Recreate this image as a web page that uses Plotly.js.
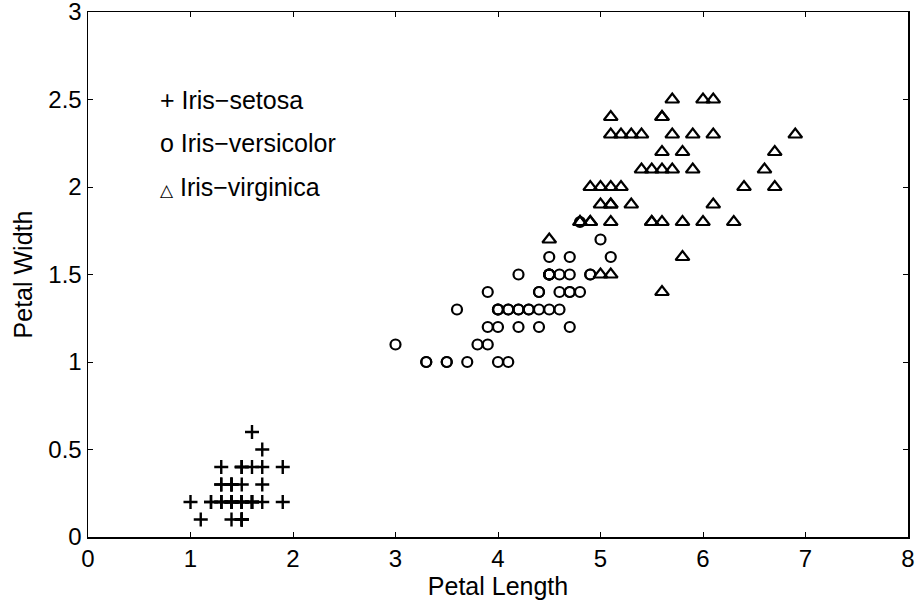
<!DOCTYPE html>
<html><head><meta charset="utf-8">
<script src="https://cdn.plot.ly/plotly-3.0.1.min.js"></script>
<style>body{margin:0;background:#fff}#c{width:920px;height:609px}</style>
</head><body><div id="c"></div>
<script>
const setosaLen = [1.4,1.4,1.3,1.5,1.4,1.7,1.4,1.5,1.4,1.5,1.5,1.6,1.4,1.1,1.2,1.5,1.3,1.4,1.7,1.5,1.7,1.5,1.0,1.7,1.9,1.6,1.6,1.5,1.4,1.6,1.6,1.5,1.5,1.4,1.5,1.2,1.3,1.5,1.3,1.5,1.3,1.3,1.3,1.6,1.9,1.4,1.6,1.4,1.5,1.4];
const setosaWid = [0.2,0.2,0.2,0.2,0.2,0.4,0.3,0.2,0.2,0.1,0.2,0.2,0.1,0.1,0.2,0.4,0.4,0.3,0.3,0.3,0.2,0.4,0.2,0.5,0.2,0.2,0.4,0.2,0.2,0.2,0.2,0.4,0.1,0.2,0.1,0.2,0.2,0.1,0.2,0.2,0.3,0.3,0.2,0.6,0.4,0.3,0.2,0.2,0.2,0.2];
const versLen = [4.7,4.5,4.9,4.0,4.6,4.5,4.7,3.3,4.6,3.9,3.5,4.2,4.0,4.7,3.6,4.4,4.5,4.1,4.5,3.9,4.8,4.0,4.9,4.7,4.3,4.4,4.8,5.0,4.5,3.5,3.8,3.7,3.9,5.1,4.5,4.5,4.7,4.4,4.1,4.0,4.4,4.6,4.0,3.3,4.2,4.2,4.2,4.3,3.0,4.1];
const versWid = [1.4,1.5,1.5,1.3,1.5,1.3,1.6,1.0,1.3,1.4,1.0,1.5,1.0,1.4,1.3,1.4,1.5,1.0,1.5,1.1,1.8,1.3,1.5,1.2,1.3,1.4,1.4,1.7,1.5,1.0,1.1,1.0,1.2,1.6,1.5,1.6,1.5,1.3,1.3,1.3,1.2,1.4,1.2,1.0,1.3,1.2,1.3,1.3,1.1,1.3];
const virgLen = [6.0,5.1,5.9,5.6,5.8,6.6,4.5,6.3,5.8,6.1,5.1,5.3,5.5,5.0,5.1,5.3,5.5,6.7,6.9,5.0,5.7,4.9,6.7,4.9,5.7,6.0,4.8,4.9,5.6,5.8,6.1,6.4,5.6,5.1,5.6,6.1,5.6,5.5,4.8,5.4,5.6,5.1,5.1,5.9,5.7,5.2,5.0,5.2,5.4,5.1];
const virgWid = [2.5,1.9,2.1,1.8,2.2,2.1,1.7,1.8,1.8,2.5,2.0,1.9,2.1,2.0,2.4,2.3,1.8,2.2,2.3,1.5,2.3,2.0,2.0,1.8,2.1,1.8,1.8,1.8,2.1,1.6,1.9,2.0,2.2,1.5,1.4,2.3,2.4,1.8,1.8,2.1,2.4,2.3,1.9,2.3,2.5,2.3,1.9,2.0,2.3,1.8];
const xTicks = [0,1,2,3,4,5,6,7,8];
const yTicks = [0,0.5,1,1.5,2,2.5,3];
const legendLabels = ['+ Iris\u2212setosa','o Iris\u2212versicolor','<span style="font-size:17px">\u25B3</span> Iris\u2212virginica'];
const legendY = [2.5,2.25,2.0];

const F = 'Liberation Sans, Arial, Helvetica, sans-serif';
const traces = [
  {x:setosaLen,y:setosaWid,mode:'markers',type:'scatter',cliponaxis:false,
   marker:{symbol:'cross-thin-open',size:10,color:'#000',line:{color:'#000',width:2.4}}},
  {x:versLen,y:versWid,mode:'markers',type:'scatter',
   marker:{symbol:'circle-open',size:10,color:'#000',line:{color:'#000',width:2.2}}},
  {x:virgLen,y:virgWid,mode:'markers',type:'scatter',
   marker:{symbol:'triangle-up-open',size:12,color:'#000',line:{color:'#000',width:2.2}}}
];
const ann = legendLabels.map((t,i)=>({x:0.68,y:legendY[i],xref:'x',yref:'y',text:t,showarrow:false,
  xanchor:'left',yanchor:'middle',font:{family:F,size:25,color:'#000'}}));
const axisCommon = {showline:true,mirror:'ticks',linecolor:'#000',linewidth:1.5,ticks:'inside',ticklen:5,
  tickcolor:'#000',tickwidth:1,showgrid:false,zeroline:false,ticklabeloverflow:'allow',
  tickfont:{family:F,size:24,color:'#000'}};
const layout = {
  width:920,height:609,margin:{l:88,r:12,t:12,b:72},
  paper_bgcolor:'#fff',plot_bgcolor:'#fff',showlegend:false,
  xaxis:Object.assign({},axisCommon,{range:[0,8],tickvals:xTicks,ticktext:xTicks.map(String),
    title:{text:'Petal Length',font:{family:F,size:25,color:'#000'},standoff:0}}),
  yaxis:Object.assign({},axisCommon,{range:[0,3],tickvals:yTicks,ticktext:yTicks.map(String),
    title:{text:'Petal Width',font:{family:F,size:25,color:'#000'},standoff:8}}),
  annotations:ann
};
Plotly.newPlot('c',traces,layout,{displayModeBar:false,staticPlot:true});
</script></body></html>
